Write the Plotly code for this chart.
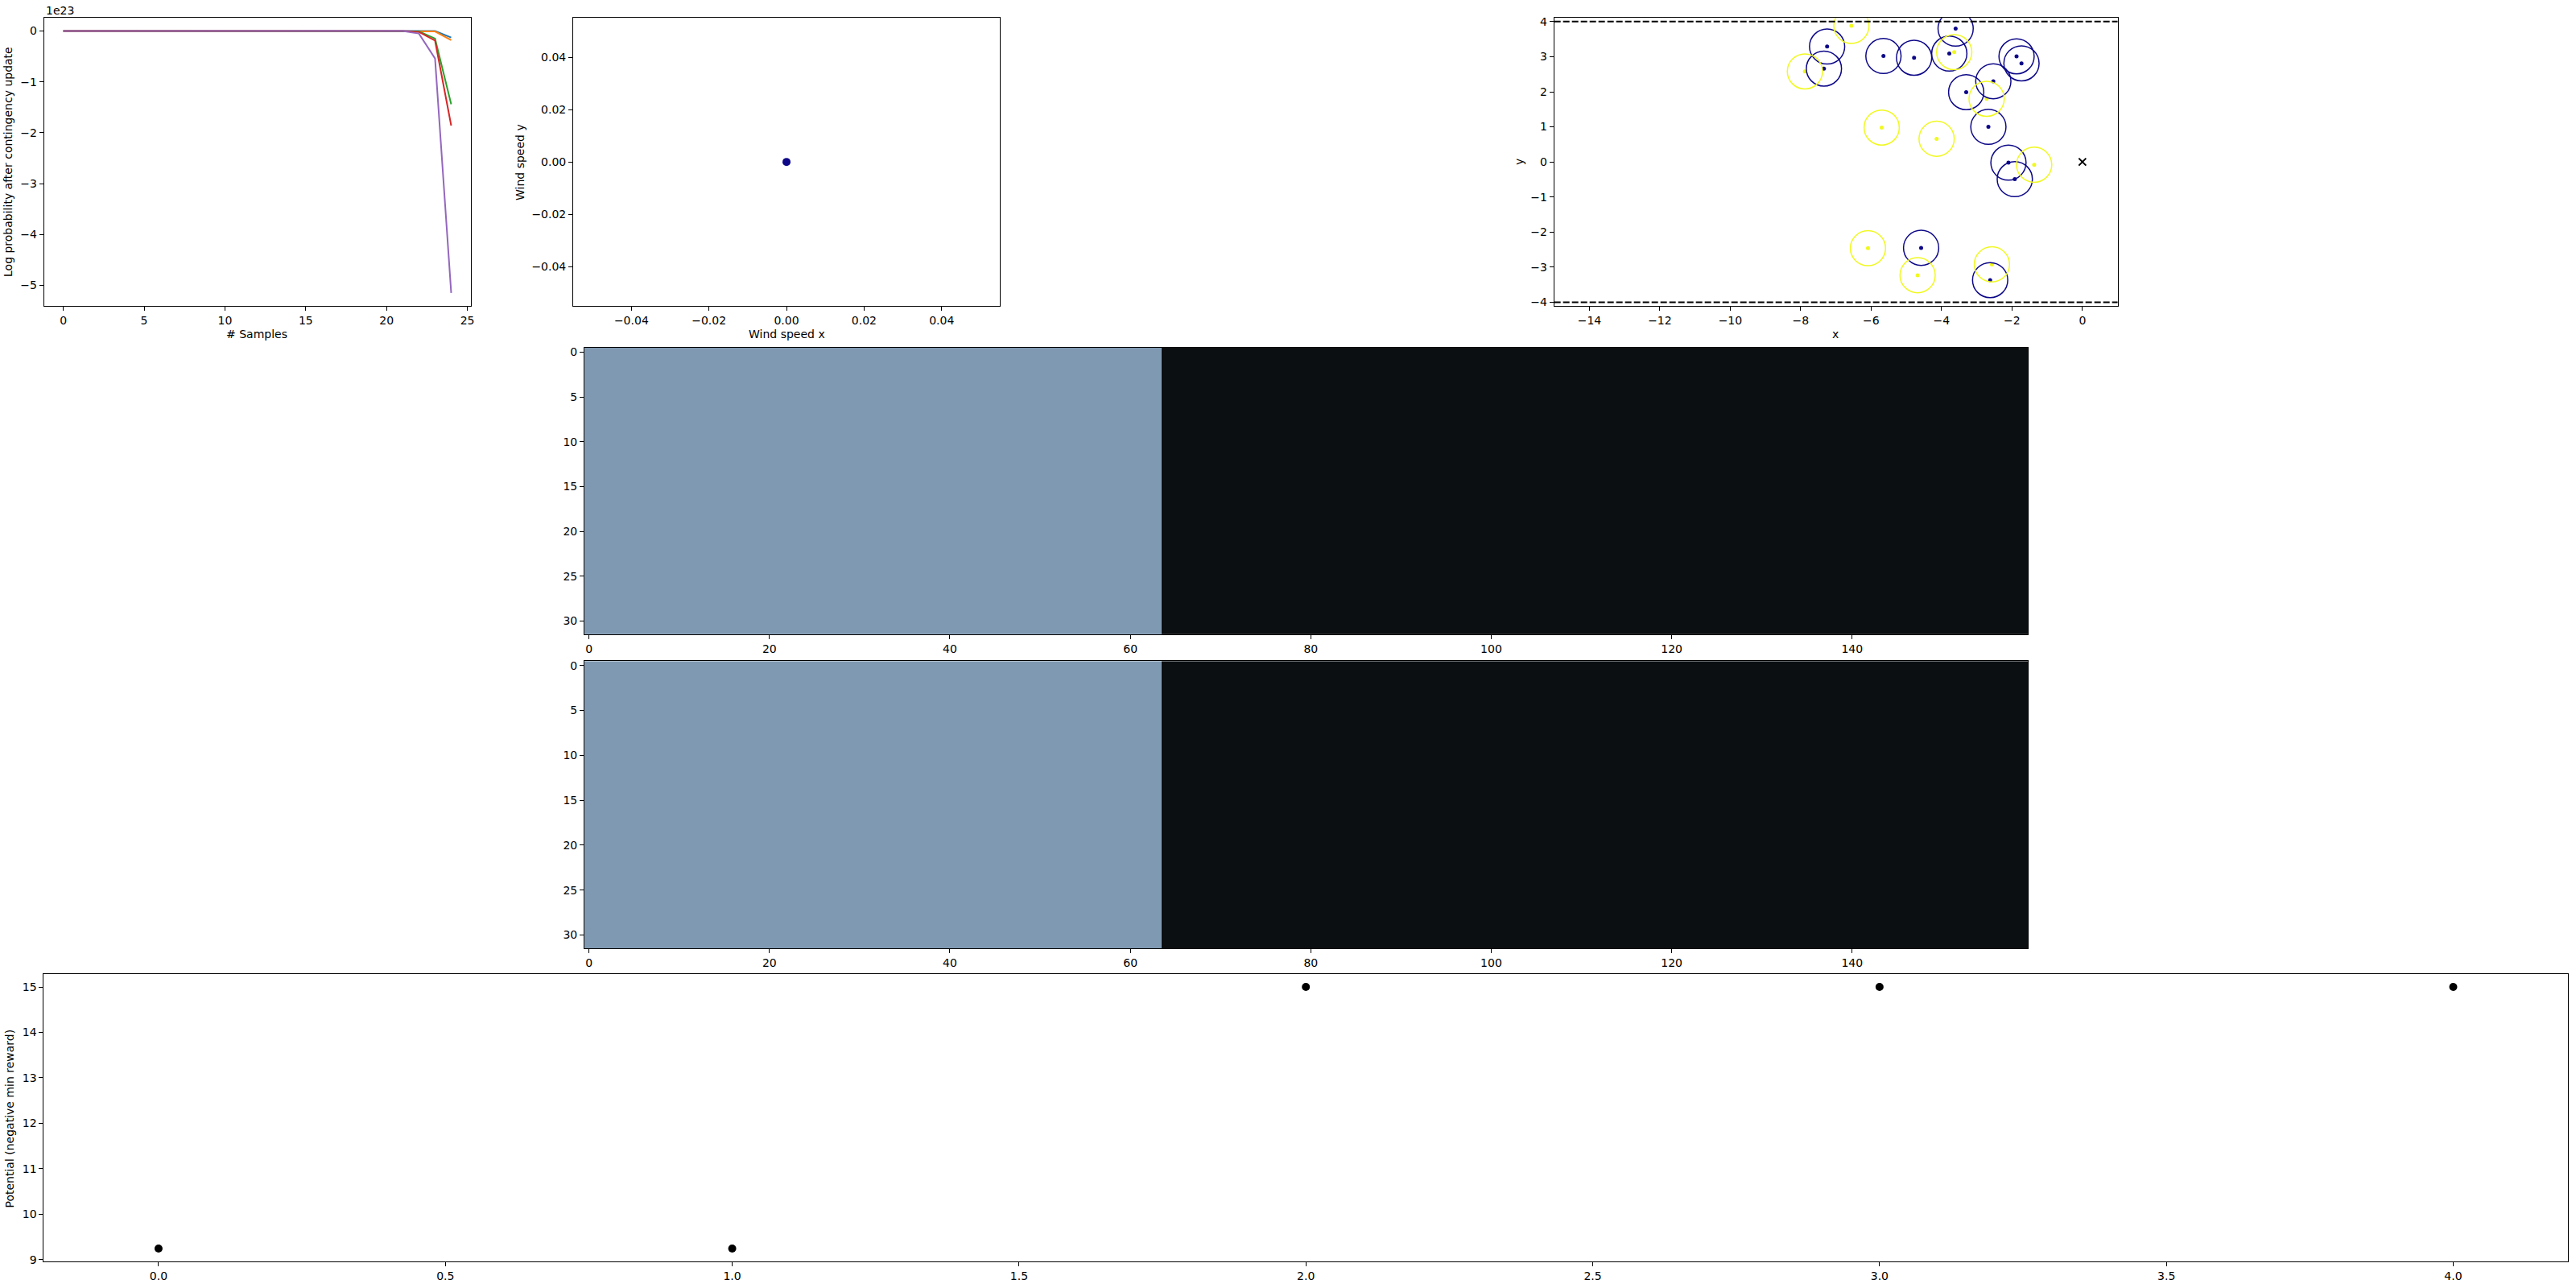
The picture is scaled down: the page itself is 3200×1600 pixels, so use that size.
import plotly.graph_objects as go

W, H = 3200, 1600

# ---------------- data ----------------
samples = list(range(25))
# log probability after contingency update, in units of 1e23
logp_scale_label = "1e23"
logp_blue   = [0, 0, 0, 0, 0, 0, 0, 0, 0, 0, 0, 0, 0, 0, 0, 0, 0, 0, 0, 0, 0, 0, 0.0, 0.0, -0.13]
logp_orange = [0, 0, 0, 0, 0, 0, 0, 0, 0, 0, 0, 0, 0, 0, 0, 0, 0, 0, 0, 0, 0, 0, 0.0, -0.01, -0.18]
logp_green  = [0, 0, 0, 0, 0, 0, 0, 0, 0, 0, 0, 0, 0, 0, 0, 0, 0, 0, 0, 0, 0, 0, -0.01, -0.15, -1.44]
logp_red    = [0, 0, 0, 0, 0, 0, 0, 0, 0, 0, 0, 0, 0, 0, 0, 0, 0, 0, 0, 0, 0, 0, -0.02, -0.19, -1.86]
logp_purple = [0, 0, 0, 0, 0, 0, 0, 0, 0, 0, 0, 0, 0, 0, 0, 0, 0, 0, 0, 0, 0, 0, -0.05, -0.54, -5.15]
series_colors = ["#1f77b4", "#ff7f0e", "#2ca02c", "#d62728", "#9467bd"]

wind_x = [0.0]
wind_y = [0.0]

# obstacles (blue) and other objects (yellow), circle radius in data units
blue_x = [-7.25, -7.34, -5.65, -4.78, -3.60, -3.78, -1.87, -1.73, -2.53, -3.30, -2.67, -2.10, -1.92, -4.58, -2.62]
blue_y = [3.29, 2.66, 3.02, 2.97, 3.80, 3.09, 3.01, 2.81, 2.30, 1.99, 1.00, -0.02, -0.49, -2.45, -3.37]
yellow_x = [-6.56, -7.88, -3.64, -2.72, -5.70, -4.14, -1.37, -6.09, -4.68, -2.57]
yellow_y = [3.88, 2.58, 3.13, 1.80, 0.98, 0.66, -0.08, -2.46, -3.23, -2.92]
circle_radius = 0.5
goal_x = [0.0]
goal_y = [0.0]
bounds_y = [4.0, -4.0]

# image grids (32 rows x 160 columns): 1 = lit (blue-grey), 0 = dark
grid_row = [1] * 64 + [0] * 96
grid_a = [list(grid_row) for _ in range(32)]
grid_b = [list(grid_row) for _ in range(32)]

potential_x = [0, 1, 2, 3, 4]
potential_y = [9.24, 9.24, 15.0, 15.0, 15.0]

BLUE = "#0d0887"
YELLOW = "#f0f921"

# ---------------- figure ----------------
FONT = dict(family="DejaVu Sans, Verdana, sans-serif", size=14, color="black")

def dom_x(a, b):
    return [a / W, b / W]

def dom_y(top, bottom):
    return [1 - bottom / H, 1 - top / H]

def ax(**kw):
    d = dict(showline=True, linecolor="black", linewidth=1, mirror=True,
             ticks="outside", ticklen=5, tickwidth=1, tickcolor="black",
             showgrid=False, zeroline=False, tickfont=FONT)
    d.update(kw)
    return d

fig = go.Figure()

# plot 1: log probability lines
for vals, col in zip([logp_blue, logp_orange, logp_green, logp_red, logp_purple], series_colors):
    fig.add_trace(go.Scatter(x=samples, y=vals, mode="lines", line=dict(color=col, width=2),
                             xaxis="x", yaxis="y", showlegend=False))

# plot 2: wind speed
fig.add_trace(go.Scatter(x=wind_x, y=wind_y, mode="markers", marker=dict(color=BLUE, size=10),
                         xaxis="x2", yaxis="y2", showlegend=False))

# plot 3: scene
fig.add_trace(go.Scatter(x=blue_x, y=blue_y, mode="markers", marker=dict(color=BLUE, size=5),
                         xaxis="x3", yaxis="y3", showlegend=False))
fig.add_trace(go.Scatter(x=yellow_x, y=yellow_y, mode="markers", marker=dict(color=YELLOW, size=5),
                         xaxis="x3", yaxis="y3", showlegend=False))
fig.add_trace(go.Scatter(x=goal_x, y=goal_y, mode="markers",
                         marker=dict(symbol="x-thin", size=9, line=dict(color="black", width=2)),
                         xaxis="x3", yaxis="y3", showlegend=False))

shapes = []
for cx, cy in zip(blue_x, blue_y):
    shapes.append(dict(type="circle", xref="x3", yref="y3", x0=cx - circle_radius, x1=cx + circle_radius,
                       y0=cy - circle_radius, y1=cy + circle_radius, line=dict(color=BLUE, width=1.5)))
for cx, cy in zip(yellow_x, yellow_y):
    shapes.append(dict(type="circle", xref="x3", yref="y3", x0=cx - circle_radius, x1=cx + circle_radius,
                       y0=cy - circle_radius, y1=cy + circle_radius, line=dict(color=YELLOW, width=1.5)))
for by in bounds_y:
    shapes.append(dict(type="line", xref="x3 domain", yref="y3", x0=0, x1=1, y0=by, y1=by,
                       line=dict(color="black", width=2, dash="8px,3px")))

# heatmaps
cscale = [[0, "#0c0f12"], [1, "#7f99b2"]]
fig.add_trace(go.Heatmap(z=grid_a, colorscale=cscale, zmin=0, zmax=1, showscale=False,
                         xaxis="x4", yaxis="y4", hoverinfo="skip"))
fig.add_trace(go.Heatmap(z=grid_b, colorscale=cscale, zmin=0, zmax=1, showscale=False,
                         xaxis="x5", yaxis="y5", hoverinfo="skip"))

# bottom: potential
fig.add_trace(go.Scatter(x=potential_x, y=potential_y, mode="markers", marker=dict(color="black", size=10),
                         xaxis="x6", yaxis="y6", showlegend=False))

heat_x = ax(range=[-0.5, 159.5], tickvals=[0, 20, 40, 60, 80, 100, 120, 140])
heat_y = dict(range=[31.5, -0.5], tickvals=[0, 5, 10, 15, 20, 25, 30])

fig.update_layout(
    width=W, height=H, margin=dict(l=0, r=0, t=0, b=0),
    paper_bgcolor="white", plot_bgcolor="white", font=FONT, showlegend=False,
    xaxis=ax(domain=dom_x(54.7, 585.5), anchor="y", range=[-1.2, 25.2], tickvals=[0, 5, 10, 15, 20, 25]),
    yaxis=ax(domain=dom_y(19.3, 379), anchor="x", range=[-5.4075, 0.2575], tickvals=[0, -1, -2, -3, -4, -5]),
    xaxis2=ax(domain=dom_x(713.2, 1243.9), anchor="y2", range=[-0.055, 0.055],
              tickvals=[-0.04, -0.02, 0, 0.02, 0.04], tickformat=".2f"),
    yaxis2=ax(domain=dom_y(19.3, 379), anchor="x2", range=[-0.055, 0.055],
              tickvals=[-0.04, -0.02, 0, 0.02, 0.04], tickformat=".2f"),
    xaxis3=ax(domain=dom_x(1933.7, 2634.7), anchor="y3", range=[-15, 1],
              tickvals=[-14, -12, -10, -8, -6, -4, -2, 0]),
    yaxis3=ax(domain=dom_y(19.3, 379), anchor="x3", range=[-4.107, 4.107],
              tickvals=[-4, -3, -2, -1, 0, 1, 2, 3, 4]),
    xaxis4=dict(heat_x, domain=dom_x(727.2, 2523.3), anchor="y4"),
    yaxis4=ax(domain=dom_y(431, 789), anchor="x4", **heat_y),
    xaxis5=dict(heat_x, domain=dom_x(727.2, 2523.3), anchor="y5"),
    yaxis5=ax(domain=dom_y(822.3, 1181), anchor="x5", **heat_y),
    xaxis6=ax(domain=dom_x(54.5, 3195), anchor="y6", range=[-0.2, 4.2],
              tickvals=[0, 0.5, 1, 1.5, 2, 2.5, 3, 3.5, 4], tickformat=".1f"),
    yaxis6=ax(domain=dom_y(1213.3, 1572.3), anchor="x6", range=[8.95, 15.28],
              tickvals=[9, 10, 11, 12, 13, 14, 15]),
    shapes=shapes,
)

def label(text, x, y, angle=0, xanchor="center"):
    fig.add_annotation(text=text, x=x / W, y=1 - y / H, xref="paper", yref="paper",
                       showarrow=False, textangle=angle, xanchor=xanchor, yanchor="middle", font=FONT)

label("# Samples", 319.6, 414)
label("Log probability after contingency update", 10, 199, -90)
label(logp_scale_label, 54.7, 10, xanchor="left")
label("Wind speed x", 978.8, 414)
label("Wind speed y", 647, 199, -90)
label("x", 2284, 414)
label("y", 1890, 199, -90)
label("Potential (negative min reward)", 12.5, 1393, -90)

fig.write_html("out.html")
